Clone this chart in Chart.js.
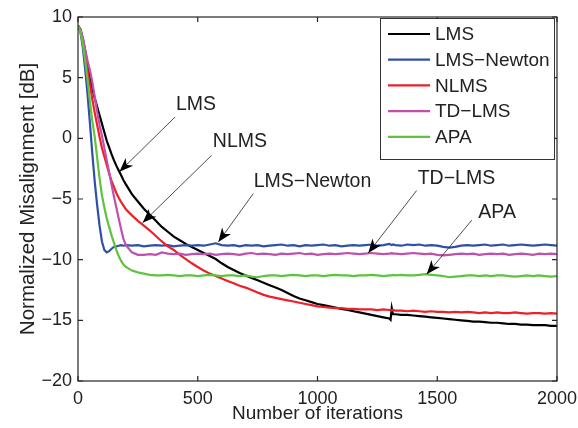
<!DOCTYPE html>
<html>
<head>
<meta charset="UTF-8">
<title>Misalignment</title>
<script src="https://cdn.jsdelivr.net/npm/chart.js"></script>
<style>
html, body { margin: 0; padding: 0; background: #fff; }
#wrap { width: 578px; height: 428px; }
</style>
</head>
<body>
<div id="wrap"><canvas id="chart" width="578" height="428"></canvas></div>
<script>
// iteration grid (dense at the start, a few extra points around the LMS jump)
const iterations = [
  0, 10, 20, 30, 40, 50, 60, 70, 80, 90, 100, 110, 120, 130, 140, 150, 160, 170, 180, 190, 200,
  225, 250, 275, 300, 325, 350, 375, 400, 425, 450, 475, 500, 525, 550, 575, 600, 625, 650, 675, 700,
  725, 750, 775, 800, 825, 850, 875, 900, 925, 950, 975, 1000, 1025, 1050, 1075, 1100, 1125, 1150, 1175, 1200,
  1225, 1250, 1275, 1300,
  1305, 1310, 1315,
  1325, 1350, 1375, 1400, 1425, 1450, 1475, 1500, 1525, 1550, 1575, 1600, 1625, 1650, 1675, 1700,
  1725, 1750, 1775, 1800, 1825, 1850, 1875, 1900, 1925, 1950, 1975, 2000
];

const lms = [
  9.3, 9.0, 8.2, 7.2, 6.1, 5.0, 4.1, 3.3, 2.6, 1.9, 1.2, 0.5, -0.2, -0.75, -1.3, -1.8, -2.25, -2.65, -3.05, -3.45, -3.8,
  -4.6, -5.2, -5.8, -6.3, -6.8, -7.3, -7.7, -8.1, -8.4, -8.7, -8.95, -9.2, -9.45, -9.7, -9.95, -10.3, -10.6, -10.85, -11.1, -11.3,
  -11.5, -11.7, -11.9, -12.1, -12.3, -12.5, -12.75, -13.0, -13.2, -13.35, -13.5, -13.65, -13.75, -13.85, -13.95, -14.05, -14.15, -14.25, -14.35, -14.45,
  -14.55, -14.65, -14.75, -14.85,
  -14.95, -14.0, -14.5,
  -14.5, -14.55, -14.55, -14.6, -14.65, -14.7, -14.75, -14.8, -14.85, -14.9, -14.95, -15.0, -15.05, -15.1, -15.1, -15.15,
  -15.2, -15.2, -15.25, -15.3, -15.3, -15.35, -15.35, -15.4, -15.4, -15.4, -15.45, -15.45
];

const lmsNewton = [
  9.3, 8.8, 7.5, 5.7, 3.6, 1.2, -1.3, -3.6, -5.5, -7.2, -8.5, -9.2, -9.4, -9.3, -9.1, -8.95, -8.9, -8.85, -8.8, -8.85, -8.8,
  -8.85, -8.8, -8.9, -8.85, -8.8, -8.85, -8.8, -8.9, -8.85, -8.8, -8.85, -8.8, -8.85, -8.75, -8.65, -8.8, -8.85, -8.8, -8.9, -8.8,
  -8.85, -8.8, -8.9, -8.85, -8.8, -8.75, -8.85, -8.8, -8.9, -8.8, -8.85, -8.8, -8.75, -8.85, -8.8, -8.9, -8.85, -8.8, -8.85, -8.8,
  -8.75, -8.85, -8.8, -8.7,
  -8.75, -8.8, -8.75,
  -8.8, -8.85, -8.75, -8.8, -8.75, -8.85, -8.8, -8.85, -8.95, -9.0, -8.95, -8.85, -8.8, -8.85, -8.8, -8.75,
  -8.85, -8.8, -8.75, -8.85, -8.8, -8.75, -8.8, -8.85, -8.8, -8.75, -8.8, -8.85
];

const nlms = [
  9.3, 8.9, 8.0, 6.8, 5.6, 4.4, 3.2, 2.1, 1.1, 0.1, -0.8, -1.5, -2.2, -2.9, -3.5, -4.0, -4.5, -4.9, -5.25, -5.55, -5.85,
  -6.35, -6.8, -7.2, -7.6, -8.05, -8.5, -8.9, -9.2, -9.6, -9.95, -10.3, -10.6, -10.9, -11.15, -11.35, -11.55, -11.75, -11.95, -12.15, -12.3,
  -12.5, -12.7, -12.9, -13.05, -13.15, -13.25, -13.35, -13.45, -13.55, -13.65, -13.75, -13.85, -13.9, -13.95, -14.0, -14.0, -14.05, -14.05, -14.1, -14.1,
  -14.1, -14.15, -14.1, -14.15,
  -14.15, -14.2, -14.15,
  -14.2, -14.2, -14.25, -14.2, -14.25, -14.3, -14.25, -14.3, -14.3, -14.35, -14.3, -14.35, -14.3, -14.35, -14.4, -14.35,
  -14.4, -14.35, -14.4, -14.4, -14.35, -14.4, -14.45, -14.4, -14.4, -14.45, -14.4, -14.45
];

const tdLms = [
  9.3, 9.0, 8.3, 7.3, 6.4, 5.6, 4.6, 3.4, 2.2, 1.1, 0.2, -0.8, -1.8, -2.8, -3.8, -4.8, -5.7, -6.6, -7.5, -8.3, -8.8,
  -9.4, -9.6, -9.6, -9.55, -9.6, -9.4, -9.5, -9.55, -9.5, -9.6, -9.55, -9.5, -9.55, -9.5, -9.6, -9.55, -9.5, -9.55, -9.6, -9.5,
  -9.45, -9.55, -9.5, -9.55, -9.6, -9.5, -9.55, -9.5, -9.45, -9.55, -9.5, -9.6, -9.55, -9.5, -9.55, -9.5, -9.45, -9.5, -9.55, -9.5,
  -9.45, -9.5, -9.55, -9.5,
  -9.5, -9.45, -9.5,
  -9.5, -9.55, -9.5, -9.45, -9.5, -9.55, -9.5, -9.6, -9.65, -9.6, -9.55, -9.5, -9.55, -9.5, -9.6, -9.55,
  -9.5, -9.55, -9.5, -9.6, -9.55, -9.5, -9.55, -9.6, -9.5, -9.55, -9.5, -9.55
];

const apa = [
  9.3, 8.8, 7.8, 6.4, 4.8, 3.0, 1.4, 0.1, -1.6, -3.3, -4.7, -5.7, -6.6, -7.3, -8.0, -8.6, -9.2, -9.7, -10.1, -10.4, -10.6,
  -10.9, -11.05, -11.15, -11.25, -11.3, -11.3, -11.25, -11.3, -11.35, -11.3, -11.3, -11.35, -11.3, -11.25, -11.3, -11.35, -11.3, -11.3, -11.35, -11.3,
  -11.4, -11.45, -11.35, -11.3, -11.3, -11.35, -11.3, -11.25, -11.3, -11.35, -11.3, -11.3, -11.35, -11.3, -11.25, -11.3, -11.3, -11.35, -11.3, -11.3,
  -11.25, -11.3, -11.35, -11.3,
  -11.3, -11.3, -11.25,
  -11.3, -11.25, -11.3, -11.3, -11.25, -11.2, -11.25, -11.3, -11.35, -11.45, -11.4, -11.35, -11.3, -11.3, -11.35, -11.3,
  -11.35, -11.3, -11.3, -11.35, -11.4, -11.35, -11.3, -11.35, -11.3, -11.35, -11.4, -11.35
];

const xTicks = [0, 500, 1000, 1500, 2000];
const yTicks = [-20, -15, -10, -5, 0, 5, 10];
const seriesNames = ['LMS', 'LMS\u2212Newton', 'NLMS', 'TD\u2212LMS', 'APA'];
const seriesColors = ['#000000', '#2f4fa8', '#ec2028', '#c150ad', '#5ec43e'];
const seriesValues = [lms, lmsNewton, nlms, tdLms, apa];

// callouts: text centre, line start, arrow tip (data units)
const notes = [
  { text: 'LMS',             tx: 493,  ty: 2.8,   sx: 405,  sy: 1.75,  ex: 173,  ey: -2.75 },
  { text: 'NLMS',            tx: 676,  ty: -0.3,  sx: 558,  sy: -1.4,  ex: 270,  ey: -6.95 },
  { text: 'LMS\u2212Newton', tx: 979,  ty: -3.6,  sx: 732,  sy: -4.55, ex: 586,  ey: -8.55 },
  { text: 'TD\u2212LMS',     tx: 1580, ty: -3.35, sx: 1414, sy: -4.3,  ex: 1212, ey: -9.45 },
  { text: 'APA',             tx: 1750, ty: -6.1,  sx: 1644, sy: -6.75, ex: 1456, ey: -11.2 }
];

const FONT = '"Liberation Sans", Arial, sans-serif';
const fmt = v => v < 0 ? '\u2212' + Math.abs(v) : String(v);

function arrowHead(ctx, x0, y0, x1, y1) {
  const ang = Math.atan2(y1 - y0, x1 - x0);
  const len = 14, half = 5.5, notch = 10;
  const c = Math.cos(ang), s = Math.sin(ang);
  const bx = x1 - len * c, by = y1 - len * s;
  const nx = x1 - notch * c, ny = y1 - notch * s;
  ctx.beginPath();
  ctx.moveTo(x1, y1);
  ctx.lineTo(bx - half * s, by + half * c);
  ctx.lineTo(nx, ny);
  ctx.lineTo(bx + half * s, by - half * c);
  ctx.closePath();
  ctx.fill();
}

const frame = {
  id: 'frame',
  afterDraw(chart) {
    const { ctx, chartArea: a, scales: { x, y } } = chart;
    ctx.save();
    ctx.strokeStyle = '#262626';
    ctx.lineWidth = 1.2;
    ctx.strokeRect(a.left, a.top, a.right - a.left, a.bottom - a.top);
    ctx.beginPath();
    xTicks.forEach(v => {
      const p = x.getPixelForValue(v);
      ctx.moveTo(p, a.bottom); ctx.lineTo(p, a.bottom - 5);
      ctx.moveTo(p, a.top); ctx.lineTo(p, a.top + 5);
    });
    yTicks.forEach(v => {
      const p = y.getPixelForValue(v);
      ctx.moveTo(a.left, p); ctx.lineTo(a.left + 5, p);
      ctx.moveTo(a.right, p); ctx.lineTo(a.right - 5, p);
    });
    ctx.stroke();

    // callouts
    ctx.font = '19.5px ' + FONT;
    ctx.textAlign = 'center';
    ctx.textBaseline = 'middle';
    notes.forEach(n => {
      const x0 = x.getPixelForValue(n.sx), y0 = y.getPixelForValue(n.sy);
      const x1 = x.getPixelForValue(n.ex), y1 = y.getPixelForValue(n.ey);
      ctx.strokeStyle = '#222';
      ctx.lineWidth = 0.8;
      ctx.beginPath(); ctx.moveTo(x0, y0); ctx.lineTo(x1, y1); ctx.stroke();
      ctx.fillStyle = '#000';
      arrowHead(ctx, x0, y0, x1, y1);
      ctx.fillStyle = '#222';
      ctx.fillText(n.text, x.getPixelForValue(n.tx), y.getPixelForValue(n.ty));
    });

    // legend box (top right, inside axes)
    const lx = 380, ly = a.top + 1, lw = a.right - 2 - lx, lh = 142;
    ctx.fillStyle = '#fff';
    ctx.fillRect(lx, ly, lw, lh);
    ctx.strokeStyle = '#333';
    ctx.lineWidth = 1;
    ctx.strokeRect(lx + 0.5, ly + 0.5, lw - 1, lh - 1);
    ctx.font = '19px ' + FONT;
    ctx.textAlign = 'left';
    seriesNames.forEach((name, i) => {
      const yy = ly + 16 + i * 25.7;
      ctx.strokeStyle = seriesColors[i];
      ctx.lineWidth = 2.2;
      ctx.beginPath(); ctx.moveTo(lx + 8, yy); ctx.lineTo(lx + 50, yy); ctx.stroke();
      ctx.fillStyle = '#222';
      ctx.fillText(name, lx + 55, yy + 1);
    });
    ctx.restore();
  }
};

new Chart(document.getElementById('chart'), {
  type: 'line',
  data: {
    datasets: seriesNames.map((name, i) => ({
      label: name,
      data: iterations.map((it, k) => ({ x: it, y: seriesValues[i][k] })),
      borderColor: seriesColors[i],
      borderWidth: 2.2,
      pointRadius: 0,
      tension: 0,
      fill: false,
      order: 5 - i
    }))
  },
  options: {
    responsive: false,
    animation: false,
    devicePixelRatio: 1,
    layout: { padding: { top: 17, right: 21, left: 0, bottom: 0 } },
    plugins: { legend: { display: false }, tooltip: { enabled: false } },
    scales: {
      x: {
        type: 'linear', min: 0, max: 2000,
        afterFit: s => { s.height = 47; s.paddingLeft = 0; s.paddingRight = 0; },
        afterBuildTicks: s => { s.ticks = xTicks.map(v => ({ value: v })); },
        ticks: { font: { family: FONT, size: 18 }, color: '#222', padding: 7, maxRotation: 0,
                 callback: v => String(v) },
        grid: { drawOnChartArea: false, drawTicks: false },
        border: { display: false },
        title: { display: true, text: 'Number of iterations', color: '#222',
                 font: { family: FONT, size: 19 }, padding: { top: 0, bottom: 3 } }
      },
      y: {
        min: -20, max: 10,
        afterFit: s => { s.width = 78; s.paddingTop = 0; s.paddingBottom = 0; },
        afterBuildTicks: s => { s.ticks = yTicks.map(v => ({ value: v })); },
        ticks: { font: { family: FONT, size: 18 }, color: '#222', padding: 6, callback: v => fmt(v) },
        grid: { drawOnChartArea: false, drawTicks: false },
        border: { display: false },
        title: { display: true, text: 'Normalized Misalignment [dB]', color: '#222',
                 font: { family: FONT, size: 20.5 }, padding: { top: 16, bottom: 0 } }
      }
    }
  },
  plugins: [frame]
});
</script>
</body>
</html>
